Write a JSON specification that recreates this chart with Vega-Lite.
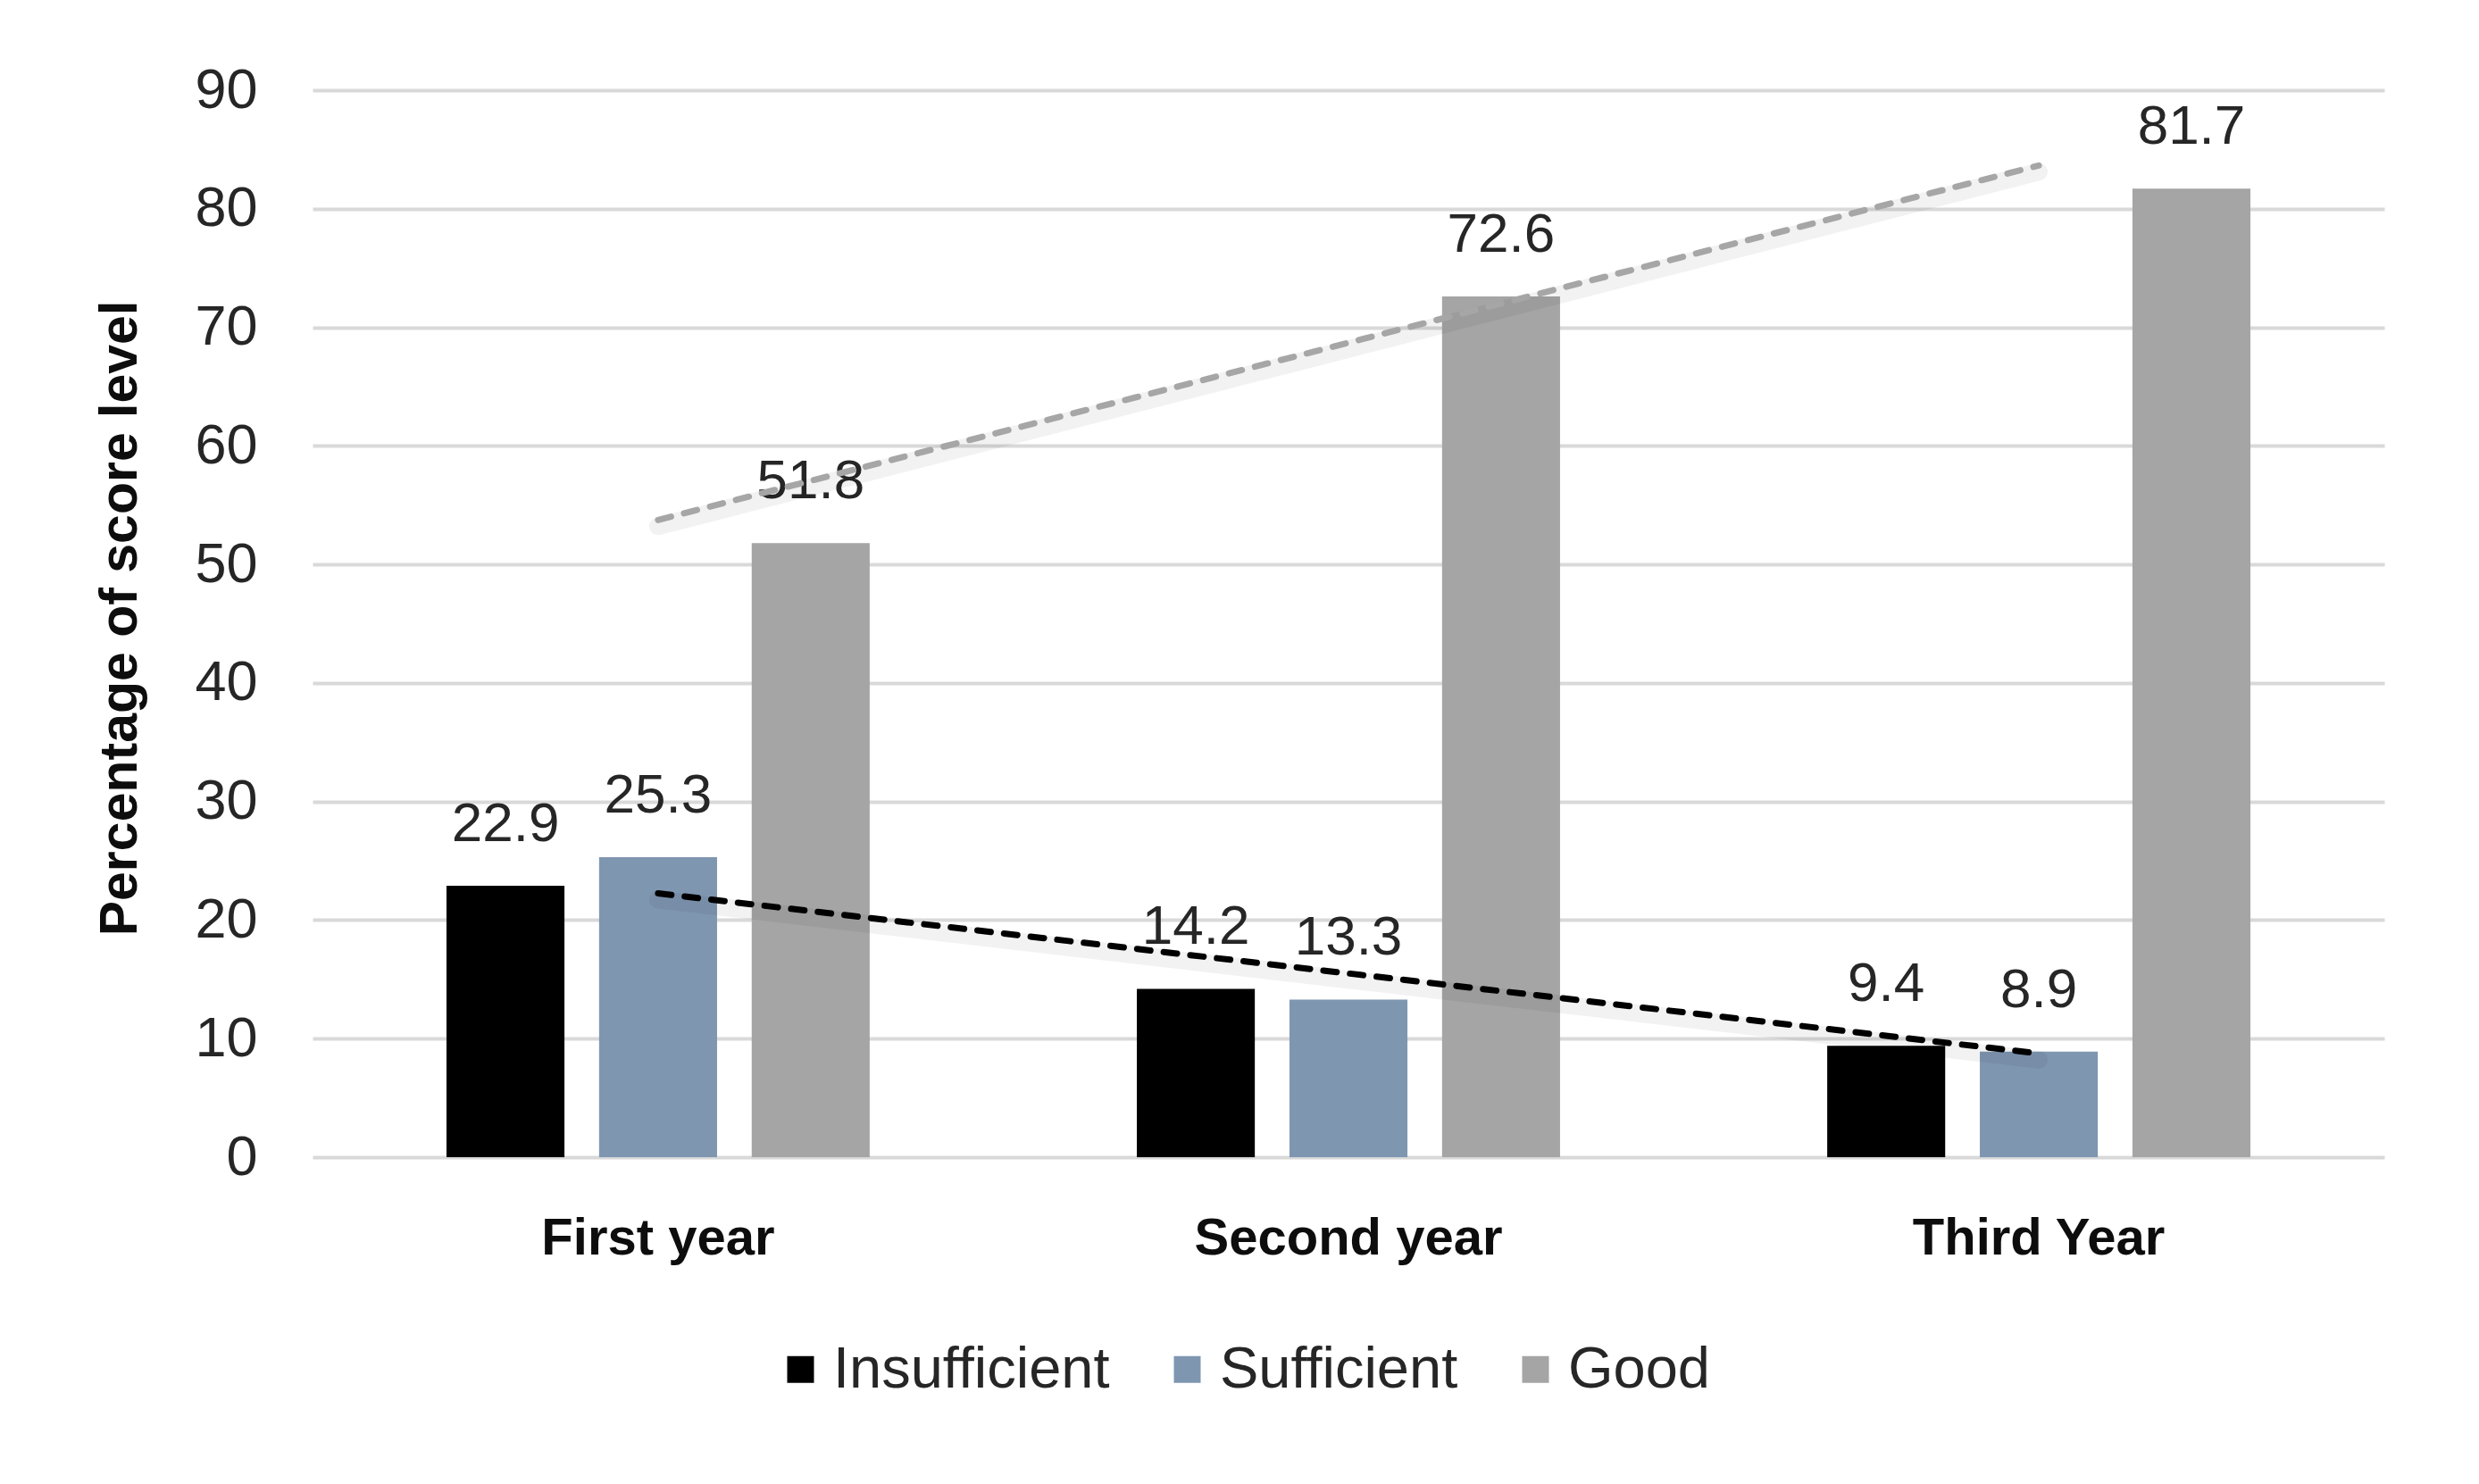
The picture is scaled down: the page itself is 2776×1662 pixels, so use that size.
{
  "$schema": "https://vega.github.io/schema/vega-lite/v6.json",
  "width": 2320,
  "height": 1195,
  "autosize": {"type": "none"},
  "padding": {"left": 350, "top": 101, "right": 106, "bottom": 366},
  "background": "white",
  "config": {
    "view": {"stroke": null},
    "font": "Liberation Sans"
  },
  "datasets": {
    "bars": [
      {"year": "First year", "series": "Insufficient", "value": 22.9},
      {"year": "First year", "series": "Sufficient", "value": 25.3},
      {"year": "First year", "series": "Good", "value": 51.8},
      {"year": "Second year", "series": "Insufficient", "value": 14.2},
      {"year": "Second year", "series": "Sufficient", "value": 13.3},
      {"year": "Second year", "series": "Good", "value": 72.6},
      {"year": "Third Year", "series": "Insufficient", "value": 9.4},
      {"year": "Third Year", "series": "Sufficient", "value": 8.9},
      {"year": "Third Year", "series": "Good", "value": 81.7}
    ],
    "trend": [
      {"year": "First year", "series": "Insufficient", "trend": 22.25},
      {"year": "Second year", "series": "Insufficient", "trend": 15.5},
      {"year": "Third Year", "series": "Insufficient", "trend": 8.75},
      {"year": "First year", "series": "Good", "trend": 53.75},
      {"year": "Second year", "series": "Good", "trend": 68.7},
      {"year": "Third Year", "series": "Good", "trend": 83.65}
    ]
  },
  "layer": [
    {
      "data": {"name": "bars"},
      "mark": {"type": "bar"},
      "encoding": {
        "x": {"field": "year", "type": "nominal", "sort": ["First year", "Second year", "Third Year"],
          "scale": {"paddingInner": 0.387, "paddingOuter": 0.194},
          "axis": {
            "title": null, "domain": false, "ticks": false, "tickSize": 0,
            "labelFontSize": 58, "labelFontWeight": "bold", "labelColor": "#0d0d0d",
            "labelBaseline": "alphabetic", "labelPadding": 108, "labelAngle": 0, "labelLimit": 600
          }
        },
        "xOffset": {"field": "series", "type": "nominal", "sort": ["Insufficient", "Sufficient", "Good"],
          "scale": {"paddingInner": 0.227, "paddingOuter": 0}},
        "y": {"field": "value", "type": "quantitative",
          "scale": {"domain": [0, 90], "nice": false},
          "axis": {
            "values": [0, 10, 20, 30, 40, 50, 60, 70, 80, 90],
            "domain": false, "ticks": false, "tickSize": 0,
            "grid": true, "gridColor": "#d9d9d9", "gridWidth": 4,
            "labelFontSize": 63, "labelColor": "#262626", "labelPadding": 62,
            "title": "Percentage of score level",
            "titleFontSize": 59, "titleFontWeight": "bold", "titleColor": "#0d0d0d",
            "titleAngle": -90, "titleBaseline": "alphabetic", "titleAlign": "center",
            "titleX": -198, "titleY": 591
          }
        },
        "color": {"field": "series", "type": "nominal",
          "scale": {"domain": ["Insufficient", "Sufficient", "Good"], "range": ["#000000", "#7f96b1", "#a5a5a5"]},
          "legend": {
            "title": null, "orient": "none", "direction": "horizontal",
            "legendX": 514, "legendY": 1400, "padding": 0,
            "symbolType": "square", "symbolSize": 900, "symbolStrokeWidth": 0, "symbolOpacity": 1,
            "labelFontSize": 65, "labelColor": "#262626", "labelOffset": 4, "labelLimit": 600,
            "columnPadding": 54
          }
        }
      }
    },
    {
      "data": {"name": "bars"},
      "mark": {"type": "text", "baseline": "alphabetic", "align": "center", "dy": -50, "fontSize": 62, "color": "#262626"},
      "encoding": {
        "x": {"field": "year", "type": "nominal", "sort": ["First year", "Second year", "Third Year"]},
        "xOffset": {"field": "series", "type": "nominal", "sort": ["Insufficient", "Sufficient", "Good"]},
        "y": {"field": "value", "type": "quantitative"},
        "text": {"field": "value", "type": "quantitative", "format": ".1f"}
      }
    },
    {
      "data": {"name": "trend"},
      "mark": {"type": "line", "color": "#000000", "opacity": 0.05, "strokeWidth": 20, "yOffset": 7, "strokeCap": "round"},
      "encoding": {
        "x": {"field": "year", "type": "nominal", "sort": ["First year", "Second year", "Third Year"]},
        "y": {"field": "trend", "type": "quantitative"},
        "detail": {"field": "series", "type": "nominal"}
      }
    },
    {
      "data": {"name": "trend"},
      "mark": {"type": "line", "strokeWidth": 7, "strokeDash": [15, 15], "strokeCap": "round"},
      "encoding": {
        "x": {"field": "year", "type": "nominal", "sort": ["First year", "Second year", "Third Year"]},
        "y": {"field": "trend", "type": "quantitative"},
        "stroke": {"field": "series", "type": "nominal",
          "scale": {"domain": ["Insufficient", "Good"], "range": ["#000000", "#a6a6a6"]},
          "legend": null}
      }
    }
  ]
}
